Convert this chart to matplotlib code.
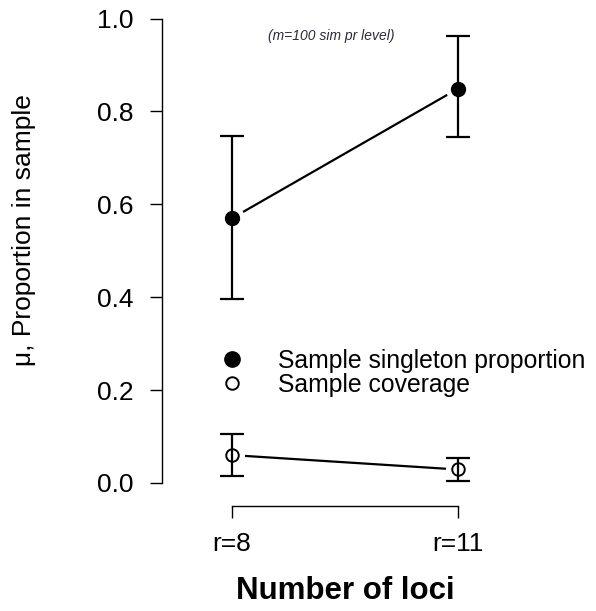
import numpy as np
import matplotlib.pyplot as plt

plt.rcParams['font.family'] = ['Liberation Sans', 'DejaVu Sans']

loci = ["r=8", "r=11"]
xpos = [1, 2]

singleton = [0.570, 0.849]
singleton_lo = [0.396, 0.746]
singleton_hi = [0.747, 0.962]

coverage = [0.060, 0.029]
coverage_lo = [0.014, 0.004]
coverage_hi = [0.105, 0.053]

W, H = 596, 611
fig = plt.figure(figsize=(W / 100, H / 100), dpi=100)
ax = fig.add_axes([162 / W, (H - 506) / H, (528 - 162) / W, 506 / H])
ax.set_xlim(0.69, 2.31)
ax.set_ylim(-0.0496, 1.04)


def series(y, lo, hi, filled):
    y = np.array(y)
    err = [y - np.array(lo), np.array(hi) - y]
    ax.plot(xpos, y, color="black", lw=1.6, zorder=1)
    # white halo -> gaps like R type="b"
    ax.plot(xpos, y, ls="none", marker="o", ms=17, mfc="white", mec="white", zorder=2)
    ax.errorbar(xpos, y, yerr=err, fmt="none", ecolor="black", elinewidth=1.6,
                capsize=8.3, capthick=1.6, zorder=3)
    if filled:
        ax.plot(xpos, y, ls="none", marker="o", ms=10, mfc="black", mec="black", zorder=4)
    else:
        ax.plot(xpos, y, ls="none", marker="o", ms=9, mfc="none", mec="black",
                mew=1.4, zorder=4)


series(singleton, singleton_lo, singleton_hi, True)
series(coverage, coverage_lo, coverage_hi, False)

for s in ["top", "right"]:
    ax.spines[s].set_visible(False)
ax.spines["left"].set_bounds(0, 1)
ax.spines["bottom"].set_bounds(1, 2)
for s in ["left", "bottom"]:
    ax.spines[s].set_linewidth(1.0)

ax.set_yticks([0, 0.2, 0.4, 0.6, 0.8, 1.0])
ax.set_yticklabels(["0.0", "0.2", "0.4", "0.6", "0.8", "1.0"])
ax.set_xticks(xpos)
ax.set_xticklabels(loci)
ax.tick_params(axis="both", direction="out", length=8.6, width=1.0, labelsize=19)
ax.tick_params(axis="y", pad=12)
ax.tick_params(axis="x", pad=10)

ax.set_ylabel("μ, Proportion in sample", fontsize=19)
ax.yaxis.set_label_coords(24 / W, (H - 230) / H, transform=fig.transFigure)
ax.set_xlabel("Number of loci", fontsize=22.5, fontweight="bold")
ax.xaxis.set_label_coords(345 / W, (H - 591) / H, transform=fig.transFigure)
ax.xaxis.label.set_va("center")
ax.yaxis.label.set_va("center")

ax.text(1.44, 0.963, "(m=100 sim pr level)", fontsize=10, style="italic",
        color="#2b2b3a", ha="center", va="center")

h1, = ax.plot([], [], ls="none", marker="o", ms=11, mfc="black", mec="black")
h2, = ax.plot([], [], ls="none", marker="o", ms=9, mfc="none", mec="black", mew=1.4)
ax.legend([h1, h2], ["Sample singleton proportion", "Sample coverage"],
          loc="upper left", bbox_to_anchor=(220 / W, (H - 349) / H),
          bbox_transform=fig.transFigure, frameon=False, fontsize=17.8,
          handlelength=1.0, handletextpad=1.35, labelspacing=0.0,
          borderpad=0, borderaxespad=0)

fig.savefig("out.png", dpi=100)
